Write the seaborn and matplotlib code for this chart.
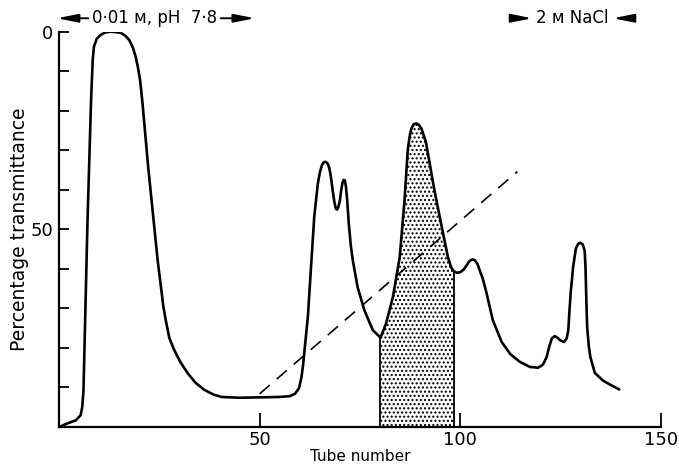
import numpy as np
import pandas as pd
import matplotlib
matplotlib.use('Agg')
import matplotlib.pyplot as plt
import seaborn as sns

# ---- data ----
tube = [0, 2.1, 4.2, 5.4, 5.8, 6.1, 6.4, 6.7, 7.1, 7.6, 8.0, 8.4, 8.7, 9.4, 10.4,
        11.5, 12.9, 14.2, 15.4, 16.5, 17.5, 18.4, 19.1, 19.7, 20.2, 20.8, 21.5,
        22.2, 23.0, 23.8, 24.6, 25.4, 26.0, 26.6, 27.5, 28.7, 30.2, 32.0, 34.0,
        36.2, 38.5, 40.5, 45.0, 50.0, 55.0, 57.5, 58.8, 59.8, 60.4, 60.8, 61.1,
        62.0, 62.8, 63.6, 64.5, 65.0, 65.5, 65.9, 66.4, 66.9, 67.3, 67.6, 67.9,
        68.2, 68.6, 69.0, 69.3, 69.6, 70.0, 70.3, 70.6, 70.9, 71.2, 71.5, 71.8,
        72.2, 72.7, 73.2, 74.4, 76.1, 78.2, 80.1, 81.5, 83.2, 84.9, 86.1, 86.9,
        87.4, 87.8, 88.4, 89.0, 89.6, 90.3, 91.4, 92.4, 93.3, 94.5, 95.7, 96.9,
        97.7, 98.4, 99.2, 100.0, 100.8, 101.5, 102.3, 103.0, 103.6, 104.3, 104.8,
        105.6, 106.5, 108.1, 110.3, 112.5, 114.8, 117.3, 119.4, 120.6, 121.5,
        122.2, 122.8, 123.5, 124.2, 124.8, 125.8, 126.5, 126.9, 127.2, 127.5,
        128.1, 128.8, 129.4, 129.9, 130.5, 131.0, 131.2, 131.4, 131.6, 132.0,
        132.4, 133.5, 135.6, 137.7, 139.6]
transmittance = [100, 99.1, 98.3, 97.0, 94.9, 90.7, 78.0, 64.6, 48.0, 30.8, 17.0,
                 7.2, 3.8, 1.8, 0.8, 0.2, 0.0, 0.1, 0.3, 1.0, 2.1, 4.0, 6.3, 9.2,
                 12.2, 18.0, 26.0, 34.0, 42.0, 50.0, 58.0, 64.6, 69.5, 73.0, 77.5,
                 80.5, 83.5, 86.3, 88.8, 90.6, 91.8, 92.4, 92.6, 92.5, 92.4, 92.2,
                 91.6, 90.2, 87.5, 84.5, 81.4, 72.2, 59.5, 46.8, 38.4, 35.6, 33.8,
                 33.1, 32.9, 33.3, 34.3, 35.8, 37.8, 40.2, 43.0, 44.8, 45.0, 44.4,
                 42.6, 40.2, 38.4, 37.5, 37.6, 39.2, 42.5, 48.5, 54.0, 57.8, 64.6,
                 70.5, 75.5, 77.4, 73.8, 67.1, 57.0, 42.6, 29.9, 26.3, 24.5, 23.4,
                 23.2, 23.5, 24.5, 27.8, 33.5, 38.8, 45.0, 51.0, 57.0, 59.6, 60.6,
                 61.0, 60.8, 60.2, 59.2, 58.0, 57.6, 57.8, 58.8, 60.3, 62.5, 66.0,
                 73.0, 78.5, 81.6, 83.5, 84.8, 85.0, 84.2, 82.3, 79.5, 77.6, 77.0,
                 77.4, 78.0, 78.5, 77.6, 75.5, 70.5, 66.0, 59.5, 54.8, 53.6, 53.4,
                 53.8, 55.5, 60.0, 68.0, 74.7, 79.5, 82.3, 86.3, 88.3, 89.5, 90.5]
gradient_tube = [50.0, 114.2]
gradient_level = [91.6, 35.4]
shade_start, shade_end = 80.1, 98.4
x_ticks = [50, 100, 150]
x_ticklabels = ['50', '100', '150']
y_major = [0, 50]
y_major_labels = ['0', '50']
y_minor = [10, 20, 30, 40, 60, 70, 80, 90]
buffer_label = '0\u00b701 \u043c, pH  7\u00b78'
salt_label = '2 \u043c NaCl'

# ---- figure ----
sns.set_style('ticks')
plt.rcParams['font.family'] = ['DejaVu Sans']
plt.rcParams['hatch.linewidth'] = 1.0
for k in ['text.color', 'axes.labelcolor', 'xtick.color', 'ytick.color',
          'axes.edgecolor']:
    plt.rcParams[k] = 'black'

fig = plt.figure(figsize=(6.79, 4.68), dpi=100)
ax = fig.add_axes([59 / 679, 1 - 427 / 468, (661 - 59) / 679, (427 - 31.7) / 468])

df = pd.DataFrame({'tube': tube, 'T': transmittance})

mask = (df['tube'] >= shade_start) & (df['tube'] <= shade_end)
ax.fill_between(df['tube'], df['T'], 100, where=mask, facecolor='white',
                edgecolor='black', hatch='....', linewidth=0, zorder=1)
edge_vals = [df.loc[df['tube'] == shade_start, 'T'].iloc[0],
             df.loc[df['tube'] == shade_end, 'T'].iloc[0]]
ax.vlines([shade_start, shade_end], edge_vals, 100, color='black', lw=1.3, zorder=2)

sns.lineplot(data=df, x='tube', y='T', color='black', lw=1.9, sort=False,
             estimator=None, ax=ax, zorder=3)
sns.lineplot(x=gradient_tube, y=gradient_level, color='black', lw=1.2,
             linestyle=(0, (8, 5.5)), ax=ax, zorder=3)

ax.set_xlim(0, 150)
ax.set_ylim(100, 0)
ax.set_xticks(x_ticks)
ax.set_xticklabels(x_ticklabels, fontsize=13)
ax.set_yticks(y_major)
ax.set_yticklabels(y_major_labels, fontsize=13)
ax.set_yticks(y_minor, minor=True)
ax.tick_params(axis='x', direction='in', length=10, width=1.3, pad=3)
ax.tick_params(axis='y', which='both', direction='in', length=7, width=1.3, pad=4)
for s in ['top', 'right']:
    ax.spines[s].set_visible(False)
for s in ['left', 'bottom']:
    ax.spines[s].set_linewidth(1.6)

ax.set_xlabel('Tube number', fontsize=11, labelpad=0)
ax.set_ylabel('Percentage transmittance', fontsize=13.5, labelpad=1)

# top annotations
ytop = -3.4
arrow = dict(arrowstyle='-|>,head_length=0.9,head_width=0.18', color='black',
             lw=1.4, mutation_scale=14, shrinkA=0, shrinkB=0)
ax.text(23.8, ytop, buffer_label, ha='center', va='center', fontsize=12,
        clip_on=False)
ax.annotate('', xy=(-0.5, ytop), xytext=(7.3, ytop), arrowprops=arrow,
            annotation_clip=False)
ax.annotate('', xy=(48.8, ytop), xytext=(40.3, ytop), arrowprops=arrow,
            annotation_clip=False)
ax.text(127.9, ytop, salt_label, ha='center', va='center', fontsize=12,
        clip_on=False)
ax.annotate('', xy=(117.9, ytop), xytext=(114.2, ytop), arrowprops=arrow,
            annotation_clip=False)
ax.annotate('', xy=(138.0, ytop), xytext=(141.7, ytop), arrowprops=arrow,
            annotation_clip=False)

fig.savefig('out.png', dpi=100)
